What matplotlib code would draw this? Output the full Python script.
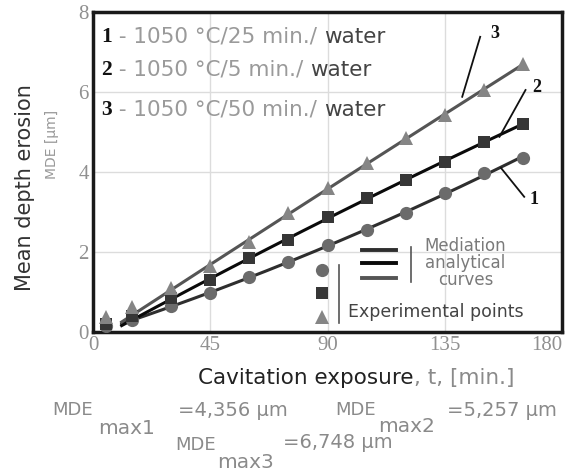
import numpy as np
import matplotlib
matplotlib.use('Agg')
import matplotlib.pyplot as plt

# Datos
t = [5, 15, 30, 45, 60, 75, 90, 105, 120, 135, 150, 165]
mde1 = [0.15, 0.30, 0.65, 0.97, 1.37, 1.74, 2.17, 2.55, 2.97, 3.47, 3.97, 4.35]
mde2 = [0.20, 0.40, 0.85, 1.30, 1.85, 2.30, 2.88, 3.35, 3.80, 4.25, 4.75, 5.20]
mde3 = [0.38, 0.63, 1.10, 1.65, 2.25, 2.97, 3.60, 4.22, 4.85, 5.42, 6.05, 6.70]
x_ticks = [0, 45, 90, 135, 180]
y_ticks = [0, 2, 4, 6, 8]

series = [
    (mde1, 'o', '#6b6b6b', '#2e2e2e', 9.5),
    (mde2, 's', '#363636', '#0a0a0a', 8.5),
    (mde3, '^', '#858585', '#555555', 10),
]

W, H = 571, 474
fig = plt.figure(figsize=(W / 100, H / 100), dpi=100)
ax = fig.add_axes([93 / W, 1 - 332 / H, 469 / W, 320 / H])


def px(x, y):
    # pixeles (desde arriba a la izquierda) -> fraccion de figura
    return x / W, 1 - y / H


tt = np.array(t, dtype=float)
for vals, mk, mcol, lcol, ms in series:
    vv = np.array(vals)
    # curva analitica: ajuste cuadratico de los puntos experimentales
    coef = np.polyfit(tt[2:], vv[2:], 2)
    xs = np.linspace(11, t[-1], 200)
    ys = np.clip(np.polyval(coef, xs), 0, None)
    ax.plot(xs, ys, color=lcol, lw=2.2, zorder=3)
    ax.plot(t, vals, linestyle='none', marker=mk, color=mcol, markersize=ms,
            markeredgewidth=0, zorder=4)

ax.set_xlim(0, 180)
ax.set_ylim(0, 8)
ax.set_xticks(x_ticks)
ax.set_yticks(y_ticks)
ax.grid(True, color='#dcdcdc', lw=1)
ax.tick_params(length=0, labelsize=15, colors='#909090', pad=3)
for lab in ax.get_xticklabels() + ax.get_yticklabels():
    lab.set_family('Liberation Serif')
ax.get_xticklabels()[-1].set_ha('right')
for s in ax.spines.values():
    s.set_linewidth(2.5)
    s.set_color('#1a1a1a')

# textos de condiciones
cond = [('1', ' - 1050 °C/25 min./ ', 0.922),
        ('2', ' - 1050 °C/5 min./ ', 0.819),
        ('3', ' - 1050 °C/50 min./ ', 0.694)]
fig.canvas.draw()
for num, txt, yy in cond:
    t1 = ax.text(0.018, yy, num, transform=ax.transAxes, fontsize=15.5,
                 fontweight='bold', family='Liberation Serif', color='#111',
                 va='center')
    fig.canvas.draw()
    bb = t1.get_window_extent().transformed(ax.transAxes.inverted())
    t2 = ax.text(bb.x1, yy, txt, transform=ax.transAxes, fontsize=15.5,
                 color='#9a9a9a', va='center')
    fig.canvas.draw()
    bb2 = t2.get_window_extent().transformed(ax.transAxes.inverted())
    ax.text(bb2.x1, yy, 'water', transform=ax.transAxes, fontsize=15.5,
            color='#444444', va='center')

# etiquetas de curvas
for p0, p1 in [((148.6, 7.38), (141.7, 5.88)),
               ((166, 6.05), (156, 4.88)),
               ((165.5, 3.38), (156.6, 4.1))]:
    ax.plot([p0[0], p1[0]], [p0[1], p1[1]], color='#111', lw=1.3, zorder=5)
pos_num = {'3': (152.5, 7.47), '2': (168.5, 6.12), '1': (167.5, 3.3)}
for lab, (xx, yy) in pos_num.items():
    ax.text(xx, yy, lab, fontsize=13, fontweight='bold',
            family='Liberation Serif', color='#111', va='center', ha='left')

# leyenda dibujada a mano
mk_x = 87.7
for (vals, mk, mcol, lcol, ms), yy in zip(series, [1.55, 0.97, 0.37]):
    ax.plot([mk_x], [yy], marker=mk, color=mcol, markersize=ms,
            markeredgewidth=0, zorder=5)
ax.plot([94.6, 94.6], [0.22, 1.68], color='#555', lw=1.2, zorder=5)
for (vals, mk, mcol, lcol, ms), yy in zip(series, [2.05, 1.72, 1.36]):
    ax.plot([103.4, 116.4], [yy, yy], color=lcol, lw=2.8, zorder=5)
ax.plot([122, 122], [1.25, 2.12], color='#555', lw=1.2, zorder=5)
ax.text(143, 1.72, 'Mediation\nanalytical\ncurves', ha='center', va='center',
        fontsize=12, color='#7a7a7a', linespacing=0.92, zorder=5)
ax.text(98, 0.5, 'Experimental points', ha='left', va='center',
        fontsize=12.5, color='#444444', zorder=5)

# etiqueta del eje x, en dos tonos
fig.canvas.draw()
xl1 = fig.text(*px(198, 378), 'Cavitation exposure', fontsize=15.5,
               color='#222', ha='left', va='center')
fig.canvas.draw()
bb = xl1.get_window_extent().transformed(fig.transFigure.inverted())
fig.text(bb.x1, 1 - 378 / H, ', t, [min.]', fontsize=15.5, color='#8a8a8a',
         ha='left', va='center')

fig.text(*px(25, 188), 'Mean depth erosion', rotation=90, fontsize=15,
         color='#333', ha='center', va='center')
fig.text(*px(52, 144), 'MDE [μm]', rotation=90, fontsize=10,
         color='#999999', ha='center', va='center')

# valores maximos: (subindice, valor, x MDE, y MDE, x sub, y sub, x valor, y valor)
mde_txt = [
    ('max1', '=4,356 μm', 52, 410, 98, 428, 178, 411),
    ('max2', '=5,257 μm', 335, 410, 378, 427, 447, 410),
    ('max3', '=6,748 μm', 175, 445, 217, 462, 283, 443),
]
for sub, val, xm, ym, xs_, ys_, xv, yv in mde_txt:
    fig.text(*px(xm, ym), 'MDE', fontsize=13, color='#8a8a8a',
             ha='left', va='center')
    fig.text(*px(xs_, ys_), sub, fontsize=14.5, color='#8a8a8a',
             ha='left', va='center')
    fig.text(*px(xv, yv), val, fontsize=14, color='#8a8a8a',
             ha='left', va='center')

fig.savefig('out.png', dpi=100)
